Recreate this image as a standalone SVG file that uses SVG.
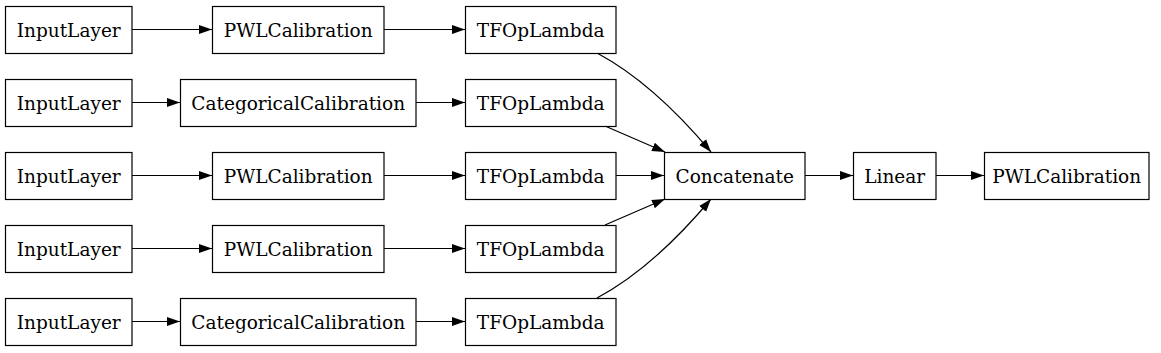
<svg xmlns="http://www.w3.org/2000/svg" width="1161" height="353" viewBox="0 0 1161 353">
<defs>
<marker id="ah" markerWidth="13" markerHeight="10" refX="13" refY="5" orient="auto" markerUnits="userSpaceOnUse">
<polygon points="0,0.5 13,5 0,9.5" fill="#000"/>
</marker>
<style>
.n rect{fill:#fff;stroke:#000;stroke-width:1.2}
.n text{font-family:"DejaVu Serif",serif;font-size:18.5px;text-anchor:middle;dominant-baseline:central;fill:#000}
.e path{fill:none;stroke:#000;stroke-width:1.2;marker-end:url(#ah)}
</style>
</defs>
<rect width="1161" height="353" fill="#fff"/>
<g class="e" id="connectors">
<path d="M132,29.5 H212"/>
<path d="M384,29.5 H465"/>
<path d="M132,102.5 H180"/>
<path d="M416,102.5 H465"/>
<path d="M132,175.5 H212"/>
<path d="M384,175.5 H465"/>
<path d="M132,248.5 H212"/>
<path d="M384,248.5 H465"/>
<path d="M132,321.5 H180"/>
<path d="M416,321.5 H465"/>
<path d="M597,53 C640,76 680,115 711,152"/>
<path d="M605,126 L665,152"/>
<path d="M616,175.5 H664"/>
<path d="M605,225 L665,199"/>
<path d="M597,298 C640,275 680,236 711,199"/>
<path d="M805,175.5 H853"/>
<path d="M936,175.5 H984"/>
</g>
<g class="n" id="input1"><rect x="5.5" y="6.5" width="126.5" height="47"/><text x="68.7" y="30">InputLayer</text></g>
<g class="n" id="pwl1"><rect x="212.5" y="6.5" width="171.5" height="47"/><text x="298.2" y="30">PWLCalibration</text></g>
<g class="n" id="tf1"><rect x="465.5" y="6.5" width="150.5" height="47"/><text x="540.7" y="30">TFOpLambda</text></g>
<g class="n" id="input2"><rect x="5.5" y="79.5" width="126.5" height="47"/><text x="68.7" y="103">InputLayer</text></g>
<g class="n" id="cat2"><rect x="180.5" y="79.5" width="235.5" height="47"/><text x="298.2" y="103">CategoricalCalibration</text></g>
<g class="n" id="tf2"><rect x="465.5" y="79.5" width="150.5" height="47"/><text x="540.7" y="103">TFOpLambda</text></g>
<g class="n" id="input3"><rect x="5.5" y="152.5" width="126.5" height="47"/><text x="68.7" y="176">InputLayer</text></g>
<g class="n" id="pwl3"><rect x="212.5" y="152.5" width="171.5" height="47"/><text x="298.2" y="176">PWLCalibration</text></g>
<g class="n" id="tf3"><rect x="465.5" y="152.5" width="150.5" height="47"/><text x="540.7" y="176">TFOpLambda</text></g>
<g class="n" id="input4"><rect x="5.5" y="225.5" width="126.5" height="47"/><text x="68.7" y="249">InputLayer</text></g>
<g class="n" id="pwl4"><rect x="212.5" y="225.5" width="171.5" height="47"/><text x="298.2" y="249">PWLCalibration</text></g>
<g class="n" id="tf4"><rect x="465.5" y="225.5" width="150.5" height="47"/><text x="540.7" y="249">TFOpLambda</text></g>
<g class="n" id="input5"><rect x="5.5" y="298.5" width="126.5" height="47"/><text x="68.7" y="322">InputLayer</text></g>
<g class="n" id="cat5"><rect x="180.5" y="298.5" width="235.5" height="47"/><text x="298.2" y="322">CategoricalCalibration</text></g>
<g class="n" id="tf5"><rect x="465.5" y="298.5" width="150.5" height="47"/><text x="540.7" y="322">TFOpLambda</text></g>
<g class="n" id="concat"><rect x="664.5" y="152.5" width="140.5" height="47"/><text x="734.7" y="176">Concatenate</text></g>
<g class="n" id="linear"><rect x="853.5" y="152.5" width="82.5" height="47"/><text x="894.7" y="176">Linear</text></g>
<g class="n" id="pwlout"><rect x="984.5" y="152.5" width="164.5" height="47"/><text x="1066.7" y="176">PWLCalibration</text></g>
</svg>
